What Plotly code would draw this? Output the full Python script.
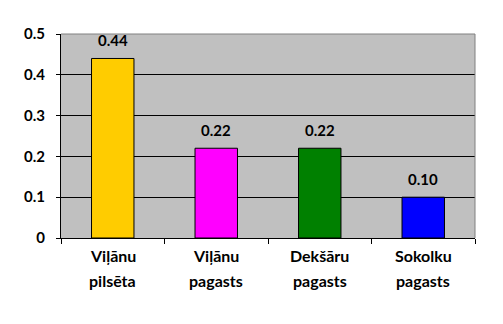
import plotly.graph_objects as go

# Categories (two-line labels), values and bar colours
line1 = ["Viļānu", "Viļānu", "Dekšāru", "Sokolku"]
line2 = ["pilsēta", "pagasts", "pagasts", "pagasts"]
values = [0.44, 0.22, 0.22, 0.10]
colors = ["#FFCC00", "#FF00FF", "#008000", "#0000FF"]
y_ticks = [0, 0.1, 0.2, 0.3, 0.4, 0.5]
y_ticktext = ["0", "0.1", "0.2", "0.3", "0.4", "0.5"]

cats = [f"{a} {b}" for a, b in zip(line1, line2)]
FONT = "Lato"

fig = go.Figure(
    go.Bar(
        x=cats,
        y=values,
        marker=dict(color=colors, line=dict(color="black", width=1)),
        width=0.41,
        hoverinfo="skip",
    )
)

# Value labels above the bars
for c, v in zip(cats, values):
    fig.add_annotation(
        x=c, y=v, xref="x", yref="y", text=f"<b>{v:.2f}</b>", showarrow=False,
        yshift=18, font=dict(family=FONT, size=15, color="black", weight="bold"),
    )

# Category labels below the axis, two lines each
for c, a, b in zip(cats, line1, line2):
    fig.add_annotation(
        x=c, y=0, xref="x", yref="paper", text=f"<b>{a}</b>", showarrow=False,
        yshift=-29, font=dict(family=FONT, size=16, color="black", weight="bold"),
    )
    fig.add_annotation(
        x=c, y=0, xref="x", yref="paper", text=f"<b>{b}</b>", showarrow=False,
        yshift=-54, font=dict(family=FONT, size=16, color="black", weight="bold"),
    )

# Grey frame on top and right of the plot area
fig.add_shape(type="line", xref="paper", yref="paper", x0=0, x1=1, y0=1, y1=1,
              line=dict(color="#808080", width=1))
fig.add_shape(type="line", xref="paper", yref="paper", x0=1, x1=1, y0=0, y1=1,
              line=dict(color="#808080", width=1))

fig.update_layout(
    width=503, height=324,
    margin=dict(l=61, r=28, t=34, b=86),
    paper_bgcolor="white",
    plot_bgcolor="#C0C0C0",
    showlegend=False,
    font=dict(family=FONT, size=14, color="black"),
)
fig.update_xaxes(
    showticklabels=False,
    ticks="outside", tickson="boundaries", ticklen=5, tickcolor="black", tickwidth=1,
    showline=True, linecolor="black", linewidth=1,
    showgrid=False, fixedrange=True,
)
fig.update_yaxes(
    range=[0, 0.5], tickvals=y_ticks, ticktext=y_ticktext,
    ticks="outside", ticklen=4, tickcolor="black", tickwidth=1,
    showline=True, linecolor="black", linewidth=1,
    showgrid=True, gridcolor="black", gridwidth=1,
    zeroline=False, fixedrange=True,
    tickfont=dict(family=FONT, size=15, color="black", weight="bold"),
    ticklabelstandoff=8,
)

fig.write_html("out.html", config={"displayModeBar": False})
